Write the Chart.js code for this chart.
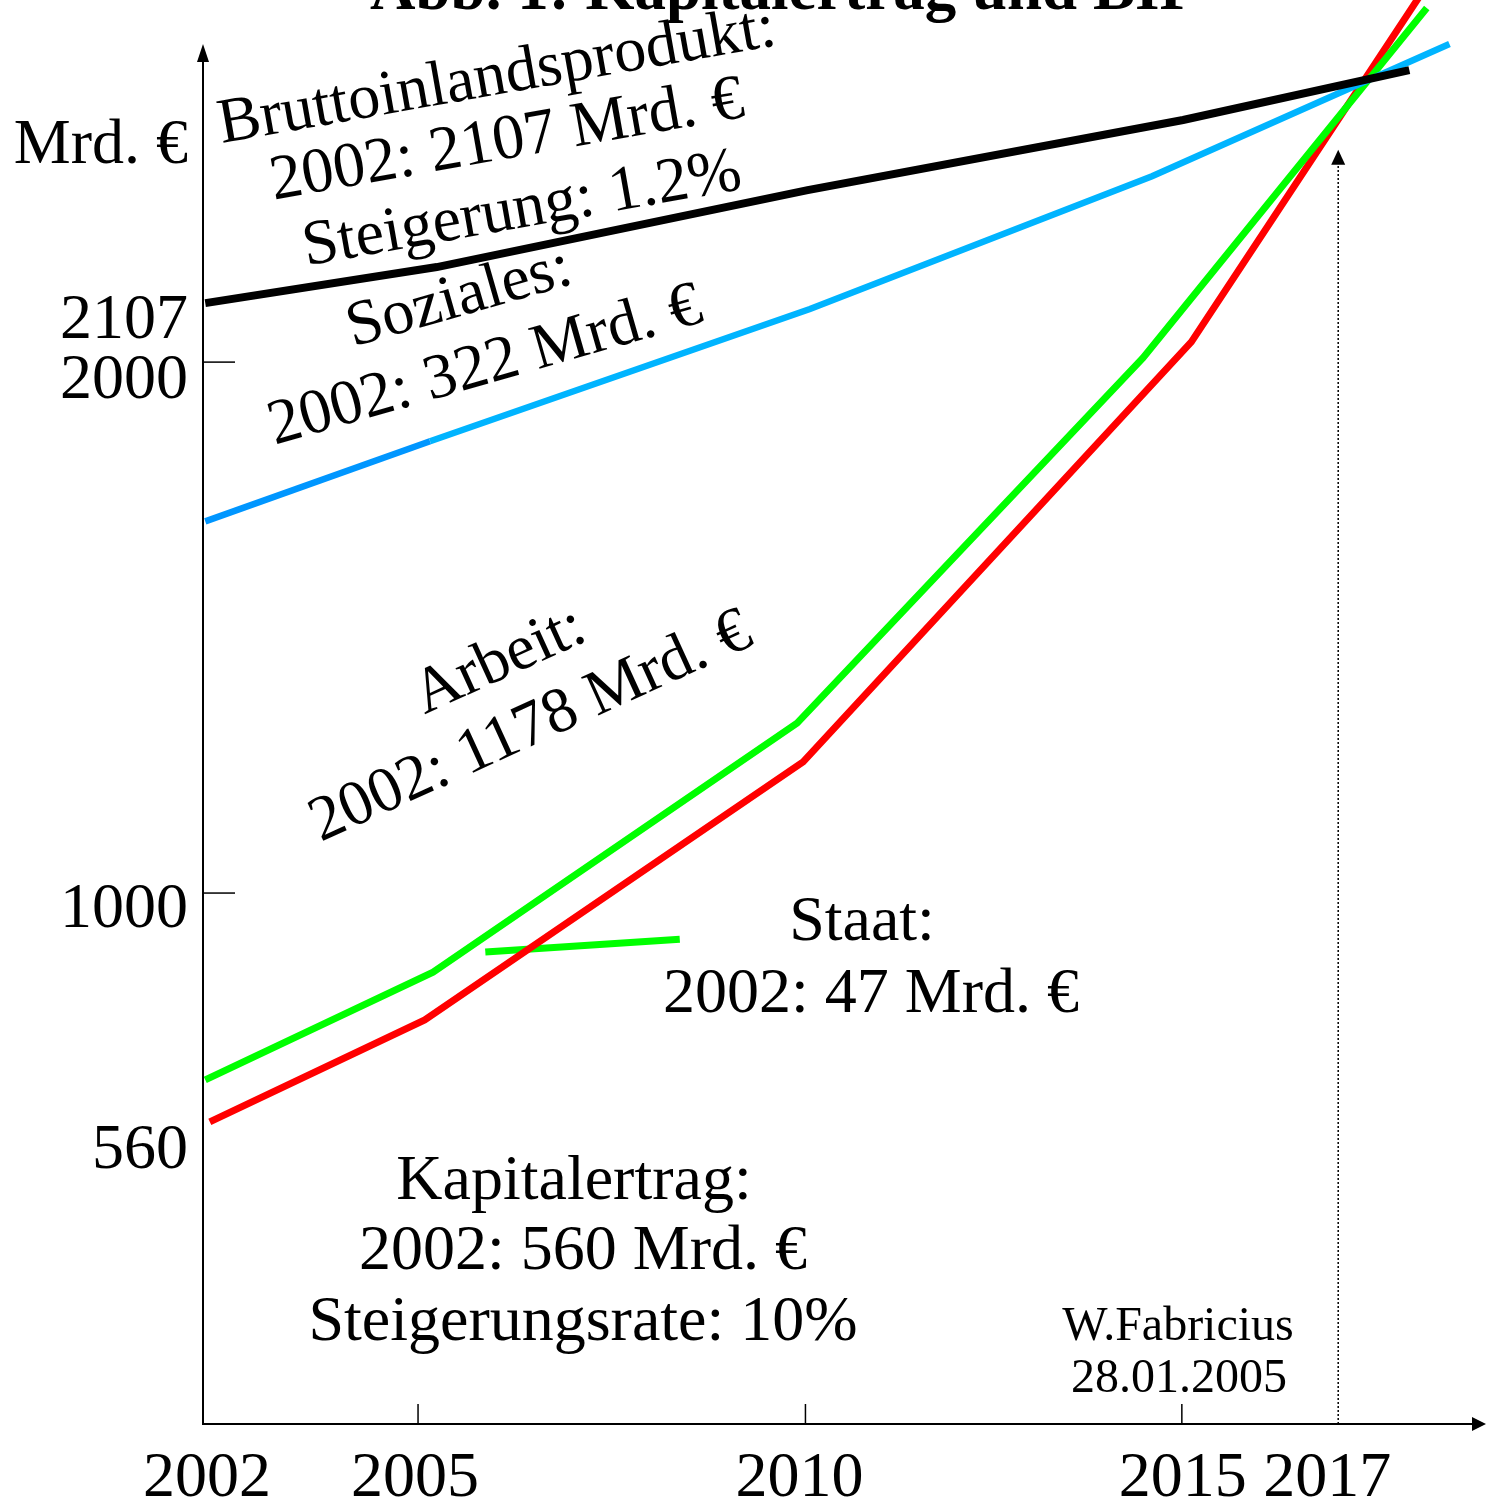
<!DOCTYPE html>
<html>
<head>
<meta charset="utf-8">
<script src="https://cdn.jsdelivr.net/npm/chart.js@4.4.0/dist/chart.umd.min.js"></script>
<style>
html,body{margin:0;padding:0;background:#fff;}
#wrap{width:1486px;height:1502px;position:relative;}
</style>
</head>
<body>
<div id="wrap"><canvas id="c"></canvas></div>
<script>
// ---- data ----
const bipYears   = [2002.03, 2005.09, 2009.99, 2014.95, 2017.94];
const bipValues  = [2111, 2179, 2324, 2456, 2550];
const sozYears   = [2002.03, 2005.0, 2010.02, 2014.54, 2018.47];
const sozValues  = [1700, 1851, 2100, 2350, 2599];
const arbYears   = [2002.03, 2005.04, 2009.85, 2014.42, 2018.17];
const arbValues  = [648, 851, 1320, 2008, 2667];
const kapYears   = [2002.09, 2004.93, 2009.93, 2015.06, 2018.08];
const kapValues  = [569, 761, 1247, 2038, 2690];
const staatYears = [2005.73, 2008.30];
const staatValues= [889, 913];
const yTickValues = [560, 1000, 2000, 2107];
const yTickMarks  = [1000, 2000];
const xTickValues = [2002, 2005, 2010, 2015, 2017];
const xTickMarks  = [2005, 2010, 2015];
const markerYear  = 2017;
const markerValue = 2400;

// hand-drawn offsets of the original (layout only)
const xLabelNudge = {2002: 4, 2005: -15, 2010: -9, 2015: -4, 2017: -11};
const xTickNudge  = {2005: -12, 2010: -3, 2015: -5};
const yLabelNudge = {560: 41, 1000: 34, 2000: 36, 2107: 33};

function pts(xs, ys){ return xs.map((x,i)=>({x:x, y:ys[i]})); }

const SERIF = '"Liberation Serif","DejaVu Serif",serif';

function txt(ctx, s, x, y, deg, size, align, bold){
  ctx.save();
  ctx.translate(x, y);
  ctx.rotate(-deg*Math.PI/180);
  ctx.font = (bold?'bold ':'') + size + 'px ' + SERIF;
  ctx.textAlign = align || 'center';
  ctx.textBaseline = 'alphabetic';
  ctx.fillStyle = '#000';
  ctx.fillText(s, 0, 0);
  ctx.restore();
}

const decor = {
  id: 'decor',
  beforeDatasetsDraw(chart){
    const ctx = chart.ctx, xs = chart.scales.x, ys = chart.scales.y;
    const x0 = xs.getPixelForValue(2002), y0 = ys.getPixelForValue(0);
    ctx.save();
    ctx.strokeStyle = '#000'; ctx.fillStyle = '#000';
    // y axis
    ctx.lineWidth = 2;
    ctx.beginPath(); ctx.moveTo(x0, y0+1); ctx.lineTo(x0, 58); ctx.stroke();
    ctx.beginPath(); ctx.moveTo(x0, 44); ctx.lineTo(x0-6, 62); ctx.lineTo(x0+6, 62); ctx.closePath(); ctx.fill();
    // x axis
    ctx.beginPath(); ctx.moveTo(x0, y0); ctx.lineTo(1474, y0); ctx.stroke();
    ctx.beginPath(); ctx.moveTo(1486, y0); ctx.lineTo(1472, y0-7); ctx.lineTo(1472, y0+7); ctx.closePath(); ctx.fill();
    // y tick marks
    ctx.lineWidth = 1.5;
    yTickMarks.forEach(v=>{
      const p = ys.getPixelForValue(v);
      ctx.beginPath(); ctx.moveTo(x0, p); ctx.lineTo(x0+32, p); ctx.stroke();
    });
    // x tick marks
    xTickMarks.forEach(v=>{
      const p = xs.getPixelForValue(v) + (xTickNudge[v]||0);
      ctx.beginPath(); ctx.moveTo(p, y0-20); ctx.lineTo(p, y0); ctx.stroke();
    });
    // dotted marker at 2017
    const mx = xs.getPixelForValue(markerYear), my = ys.getPixelForValue(markerValue);
    ctx.setLineDash([2,2]);
    ctx.lineWidth = 1.5;
    ctx.beginPath(); ctx.moveTo(mx, y0); ctx.lineTo(mx, my+14); ctx.stroke();
    ctx.setLineDash([]);
    ctx.beginPath(); ctx.moveTo(mx, my); ctx.lineTo(mx-7, my+15); ctx.lineTo(mx+7, my+15); ctx.closePath(); ctx.fill();
    ctx.restore();

    // tick labels
    yTickValues.forEach(v=>{
      txt(ctx, String(v), 188, ys.getPixelForValue(v)+(yLabelNudge[v]||35), 0, 64, 'right');
    });
    xTickValues.forEach(v=>{
      txt(ctx, String(v), xs.getPixelForValue(v)+(xLabelNudge[v]||0), 1496, 0, 64, 'center');
    });
  },
  afterDatasetsDraw(chart){
    const ctx = chart.ctx;
    // title (mostly cut off at top)
    txt(ctx, 'Abb. 1: Kapitalertrag und BIP', 784, 9, 0, 63, 'center', true);
    // unit
    txt(ctx, 'Mrd. €', 188, 163, 0, 64, 'right');
    // BIP
    txt(ctx, 'Bruttoinlandsprodukt:', 500, 94, 10, 64);
    txt(ctx, '2002: 2107 Mrd. €', 510, 158, 10, 64);
    txt(ctx, 'Steigerung: 1.2%', 525, 227, 10, 64);
    // Soziales
    txt(ctx, 'Soziales:', 464, 315, 16, 64);
    txt(ctx, '2002: 322 Mrd. €', 490, 383, 16, 64);
    // Arbeit
    txt(ctx, 'Arbeit:', 507, 677, 24.5, 64);
    txt(ctx, '2002: 1178 Mrd. €', 538, 743, 24.5, 64);
    // Staat
    txt(ctx, 'Staat:', 862, 940, 0, 64);
    txt(ctx, '2002: 47 Mrd. €', 871, 1012, 0, 64);
    // Kapitalertrag
    txt(ctx, 'Kapitalertrag:', 574, 1199, 0, 64);
    txt(ctx, '2002: 560 Mrd. €', 583, 1269, 0, 64);
    txt(ctx, 'Steigerungsrate: 10%', 583, 1340, 0, 64);
    // author
    txt(ctx, 'W.Fabricius', 1178, 1340, 0, 48);
    txt(ctx, '28.01.2005', 1179, 1392, 0, 48);
  }
};

const common = {pointRadius:0, tension:0, fill:false, clip:false, borderCapStyle:'butt', borderJoinStyle:'miter'};

new Chart(document.getElementById('c'), {
  type: 'line',
  data: {
    datasets: [
      Object.assign({label:'Bruttoinlandsprodukt', data: pts(bipYears,bipValues), borderColor:'#000000', borderWidth:8}, common),
      Object.assign({label:'Soziales', data: pts(sozYears,sozValues), borderColor:'#00b4ff', borderWidth:6.5,
        segment:{borderColor: c => c.p0DataIndex===0 ? '#0096ff' : '#00b4ff'}}, common),
      Object.assign({label:'Arbeit', data: pts(arbYears,arbValues), borderColor:'#00ff00', borderWidth:7}, common),
      Object.assign({label:'Kapitalertrag', data: pts(kapYears,kapValues), borderColor:'#ff0000', borderWidth:7}, common),
      Object.assign({label:'Staat', data: pts(staatYears,staatValues), borderColor:'#00ff00', borderWidth:7}, common)
    ]
  },
  options: {
    responsive: true,
    maintainAspectRatio: false,
    animation: false,
    layout: {padding: {left:203, right:4, top:0, bottom:78}},
    plugins: {legend:{display:false}, tooltip:{enabled:false}, title:{display:false}},
    scales: {
      x: {type:'linear', min:2002, max:2018.9, display:false},
      y: {type:'linear', min:0, max:2682, display:false}
    }
  },
  plugins: [decor]
});
</script>
</body>
</html>
